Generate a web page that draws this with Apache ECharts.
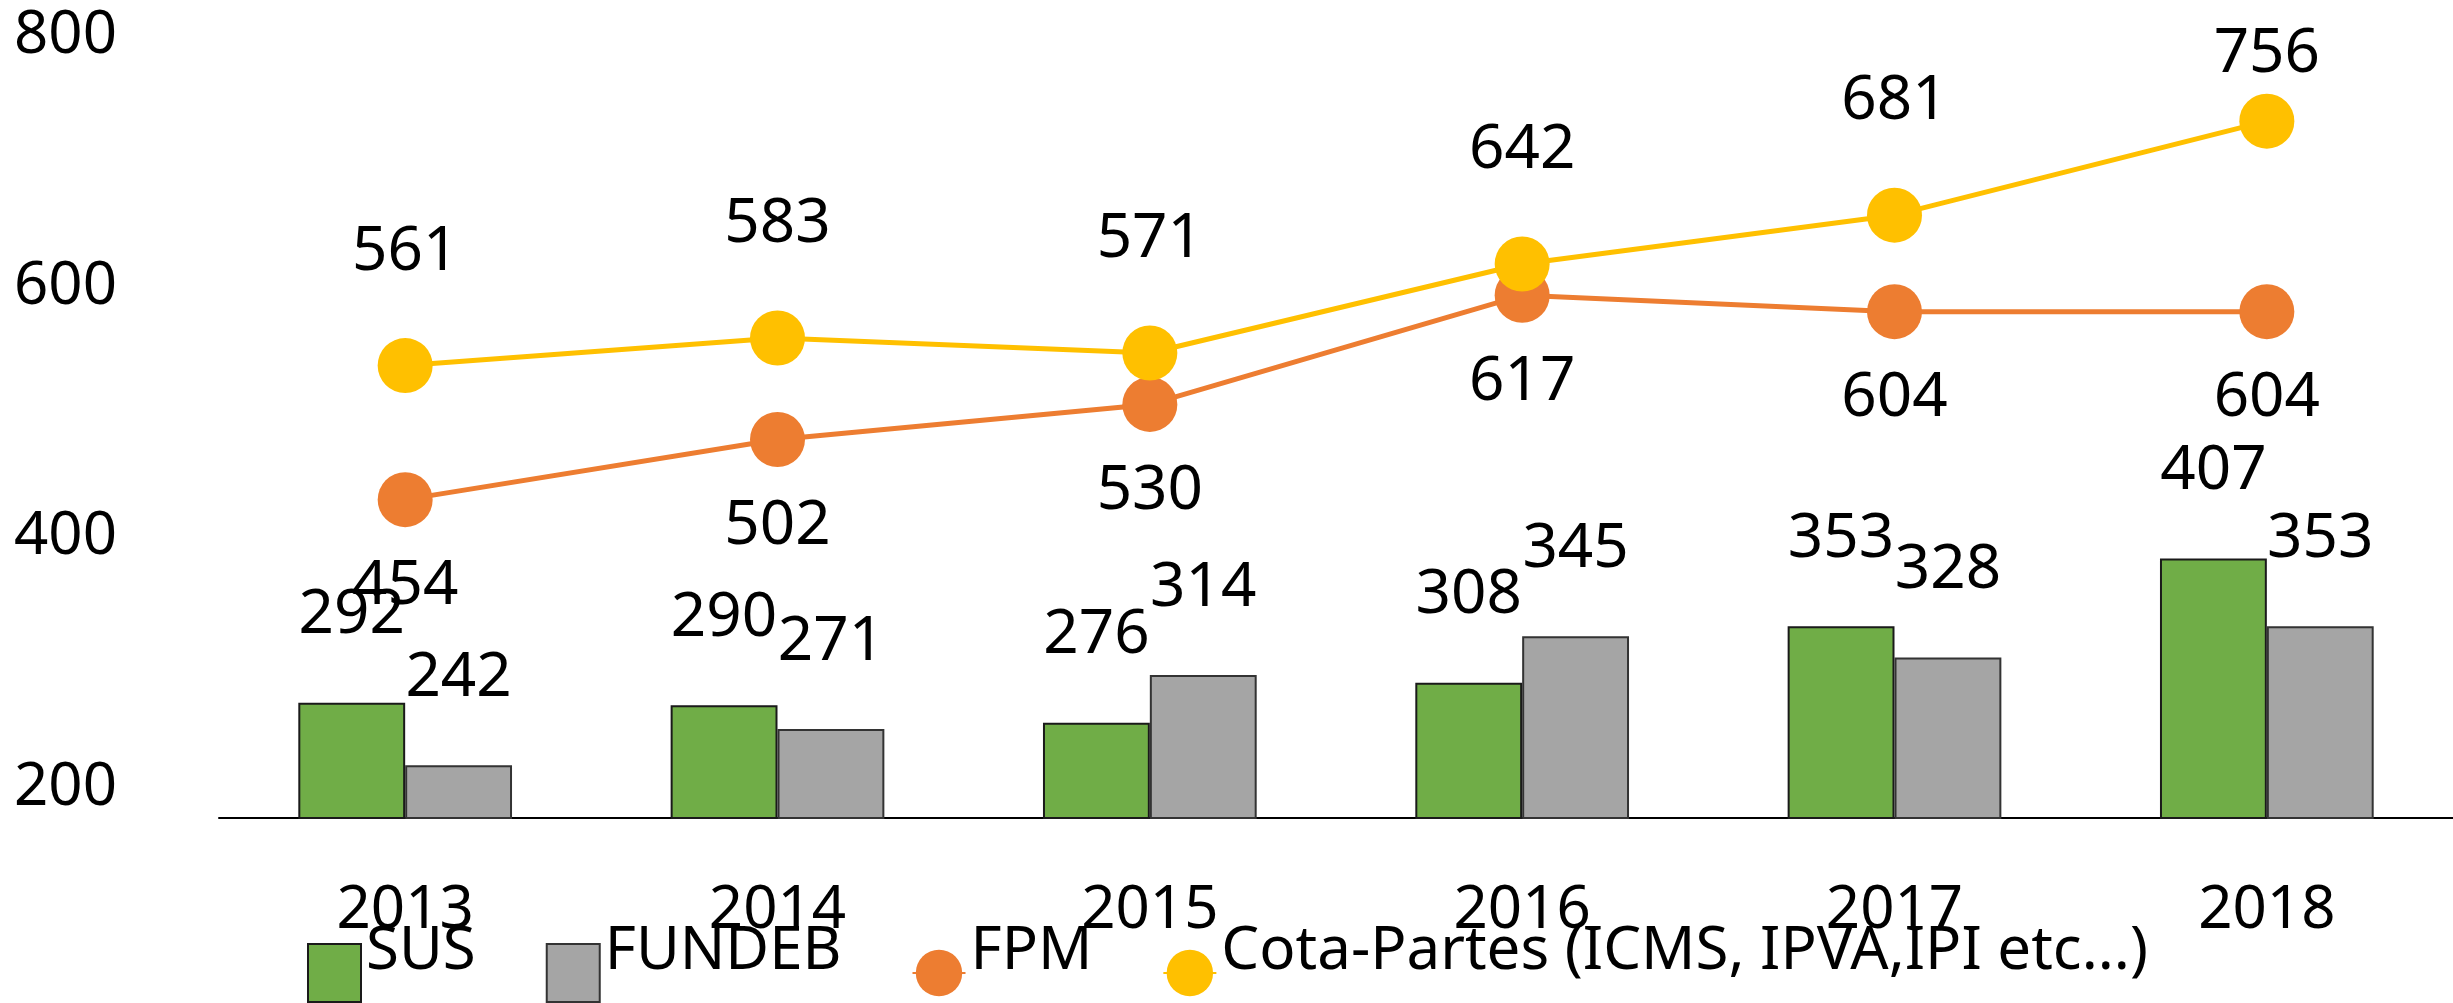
<!DOCTYPE html>
<html>
<head>
<meta charset="utf-8">
<script src="https://cdn.jsdelivr.net/npm/echarts@6/dist/echarts.min.js"></script>
<style>
  html, body { margin: 0; padding: 0; background: #fff; }
  #chart { width: 2453px; height: 1003px; }
</style>
</head>
<body>
<div id="chart"></div>
<script>
// 数据
const years = ['2013', '2014', '2015', '2016', '2017', '2018']
const susValues = [292, 290, 276, 308, 353, 407]
const fundebValues = [242, 271, 314, 345, 328, 353]
const fpmValues = [454, 502, 530, 617, 604, 604]
const cotaValues = [561, 583, 571, 642, 681, 756]
const yTicks = [200, 400, 600, 800]

const FONT = '"Noto Sans", "DejaVu Sans", sans-serif'
const labelStyle = { color: '#000', fontSize: 62, fontFamily: FONT }

const chart = echarts.init(document.getElementById('chart'))

// 最后一个点的标签贴近顶部
const cotaData = cotaValues.map((v, i) =>
  i === cotaValues.length - 1 ? { value: v, label: { distance: 8 } } : v
)

chart.setOption({
  animation: false,
  grid: { left: 219, right: -4, top: 66, bottom: 185 },
  legend: {
    left: 307,
    top: 922,
    padding: 0,
    itemWidth: 53,
    itemHeight: 58,
    itemGap: 70,
    formatter: '{t|{name}}',
    textStyle: {
      color: '#000',
      fontSize: 60,
      fontFamily: FONT,
      rich: { t: { color: '#000', fontSize: 60, fontFamily: FONT, padding: [0, 0, 42, 0] } }
    },
    data: [
      { name: 'SUS', icon: 'rect' },
      { name: 'FUNDEB', icon: 'rect' },
      'FPM',
      'Cota-Partes (ICMS, IPVA,IPI etc...)'
    ]
  },
  xAxis: {
    type: 'category',
    data: years,
    axisLine: { lineStyle: { color: '#000', width: 2 } },
    axisTick: { show: false },
    axisLabel: { color: '#000', fontSize: 60, fontFamily: FONT, margin: 63 }
  },
  yAxis: {
    type: 'value',
    min: yTicks[0],
    max: yTicks[yTicks.length - 1],
    interval: 200,
    splitLine: { show: false },
    axisLine: { show: false },
    axisTick: { show: false },
    axisLabel: { color: '#000', fontSize: 60, fontFamily: FONT, margin: 102, verticalAlign: 'bottom' }
  },
  series: [
    {
      name: 'SUS',
      type: 'bar',
      data: susValues,
      barGap: '0%',
      barCategoryGap: '42.6%',
      itemStyle: { color: '#70AD47', borderColor: '#1a1a1a', borderWidth: 2 },
      label: { show: true, position: 'top', distance: 56, ...labelStyle }
    },
    {
      name: 'FUNDEB',
      type: 'bar',
      data: fundebValues,
      itemStyle: { color: '#A5A5A5', borderColor: '#333', borderWidth: 2 },
      label: { show: true, position: 'top', distance: 56, ...labelStyle }
    },
    {
      name: 'FPM',
      type: 'line',
      data: fpmValues,
      symbol: 'circle',
      symbolSize: 55,
      lineStyle: { color: '#ED7D31', width: 5 },
      itemStyle: { color: '#ED7D31' },
      label: { show: true, position: 'bottom', distance: 28, ...labelStyle }
    },
    {
      name: 'Cota-Partes (ICMS, IPVA,IPI etc...)',
      type: 'line',
      data: cotaData,
      symbol: 'circle',
      symbolSize: 55,
      lineStyle: { color: '#FFC000', width: 5 },
      itemStyle: { color: '#FFC000' },
      label: { show: true, position: 'top', distance: 55, ...labelStyle }
    }
  ]
})
</script>
</body>
</html>
